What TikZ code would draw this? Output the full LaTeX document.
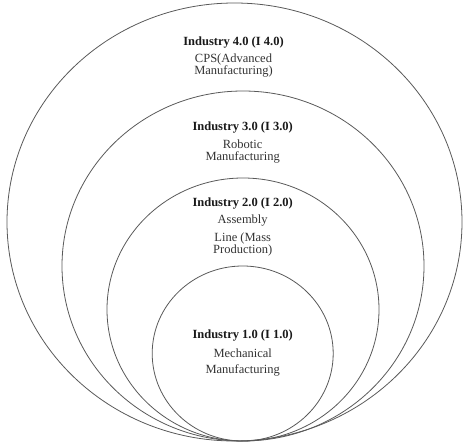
\documentclass[tikz,border=0pt]{standalone}
\usepackage{fontspec}
\setmainfont{Liberation Serif}
\begin{document}
\begin{tikzpicture}[x=1pt,y=1pt,
  ring/.style={draw=black!65,line width=0.8pt},
  ttl/.style={font=\fontsize{12.5}{12.5}\selectfont\bfseries,text=black!90,inner sep=0pt,anchor=center},
  txt/.style={font=\fontsize{12.5}{12}\selectfont,text=black!80,inner sep=0pt,anchor=center,align=center}]
\useasboundingbox (0,0) rectangle (474,442);
\draw[ring] (234.5,220) ellipse [x radius=227.5,y radius=219];
\draw[ring] (243,176) ellipse [x radius=181,y radius=175];
\draw[ring] (243,132.5) ellipse [x radius=136,y radius=131.5];
\draw[ring] (242.7,88.5) ellipse [x radius=90.5,y radius=87.5];
% Industry 4.0
\node[ttl] (t4) at (233.5,399.3) {Industry 4.0 (I 4.0)};
\node[txt] (b4) at (233.5,376) {CPS(Advanced\\Manufacturing)};
% Industry 3.0
\node[ttl] (t3) at (242.7,314.3) {Industry 3.0 (I 3.0)};
\node[txt] (b3) at (242.7,290) {Robotic\\Manufacturing};
% Industry 2.0
\node[ttl] (t2) at (242.7,238.7) {Industry 2.0 (I 2.0)};
\node[txt] (b2a) at (242.7,221) {Assembly};
\node[txt] (b2b) at (242.7,197.8) {Line (Mass\\Production)};
% Industry 1.0
\node[ttl] (t1) at (242.7,106.3) {Industry 1.0 (I 1.0)};
\node[txt] (b1a) at (242.7,88.7) {Mechanical};
\node[txt] (b1b) at (242.7,71.3) {Manufacturing};
\end{tikzpicture}
\end{document}
